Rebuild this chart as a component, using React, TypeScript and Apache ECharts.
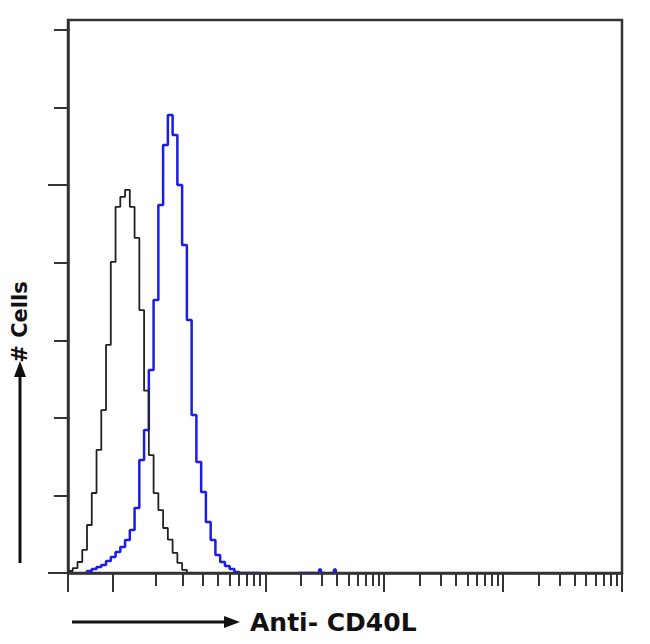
import React, { useEffect, useRef } from "react";
import * as echarts from "echarts";

// x values are log10 of fluorescence intensity, y values are cell counts
const controlBins = [-0.66, -0.64, -0.6, -0.56, -0.52, -0.48, -0.44, -0.4, -0.36, -0.32, -0.28, -0.24, -0.2, -0.16, -0.12, -0.08, -0.04, 0.0, 0.04, 0.08, 0.12, 0.16, 0.2, 0.24, 0.28, 0.32, 0.36, 0.4];
const controlCounts = [0, 0.26, 0.64, 1.42, 2.97, 6.19, 10.31, 15.86, 21.0, 29.4, 40.1, 47.2, 48.5, 49.4, 47.2, 43.2, 33.9, 23.5, 15.2, 10.3, 8.1, 5.8, 4.3, 2.6, 1.3, 0.4, 0, 0];

const cd40lBins = [-0.52, -0.48, -0.44, -0.4, -0.36, -0.32, -0.28, -0.24, -0.2, -0.16, -0.12, -0.08, -0.04, 0.0, 0.04, 0.08, 0.12, 0.16, 0.2, 0.24, 0.28, 0.32, 0.36, 0.4, 0.44, 0.48, 0.52, 0.56, 0.6, 0.64, 0.68, 0.72, 0.76, 0.8, 1.1, 1.445, 1.46, 1.475, 1.52, 1.57, 1.585, 1.6];
const cd40lCounts = [0, 0.26, 0.52, 0.77, 1.03, 1.55, 2.06, 2.71, 3.35, 4.25, 5.54, 8.38, 14.57, 18.44, 26.17, 35.19, 47.44, 55.18, 59.04, 56.47, 50.02, 42.28, 32.61, 20.37, 14.31, 10.44, 6.57, 4.25, 2.32, 1.42, 0.9, 0.52, 0.13, 0, null, 0, 0.45, 0, null, 0, 0.45, 0];

const xMin = -0.66;
const xMax = 4.0;
const yMax = 71.29;
const xMajorTicks = [-0.659, -0.285, 1, 2, 3, 4];
const xDecades = [0, 1, 2, 3];
const xMinorSteps = [2, 3, 4, 5, 6, 7, 8, 9];
const xExtraMinor = [0.08];
const yShortTicks = [10, 20, 30, 40, 60, 70];
const yLongTicks = [0, 50];

export default function App() {
  const ref = useRef<HTMLDivElement>(null);
  useEffect(() => {
    if (!ref.current) return;
    const chart = echarts.init(ref.current, null, { renderer: "svg" });
    const xMinorTicks = [...xExtraMinor];
    xDecades.forEach((d) => xMinorSteps.forEach((k) => xMinorTicks.push(d + Math.log10(k))));
    const axisColor = "#333";
    const control = controlBins.map((x, i) => [x, controlCounts[i]]);
    const cd40l = cd40lBins.map((x, i) => [x, cd40lCounts[i]]);
    chart.setOption({
      animation: false,
      backgroundColor: "#fff",
      grid: {
        left: 68,
        right: 28,
        top: 20,
        bottom: 71,
        show: true,
        borderColor: axisColor,
        borderWidth: 2.5,
      },
      xAxis: [
        {
          type: "value",
          min: xMin,
          max: xMax,
          position: "bottom",
          z: 6,
          axisLine: { show: true, onZero: false, lineStyle: { color: axisColor, width: 2.5 } },
          axisTick: { show: true, customValues: xMajorTicks, length: 19, lineStyle: { color: axisColor, width: 2 } },
          axisLabel: { show: false, customValues: xMajorTicks },
          splitLine: { show: false },
        },
        {
          type: "value",
          min: xMin,
          max: xMax,
          position: "bottom",
          z: 6,
          axisLine: { show: false, onZero: false },
          axisTick: { show: true, customValues: xMinorTicks, length: 13, lineStyle: { color: axisColor, width: 2 } },
          axisLabel: { show: false, customValues: xMinorTicks },
          splitLine: { show: false },
        },
      ],
      yAxis: [
        {
          type: "value",
          min: 0,
          max: yMax,
          position: "left",
          z: 6,
          axisLine: { show: true, onZero: false, lineStyle: { color: axisColor, width: 2.5 } },
          axisTick: { show: true, customValues: yShortTicks, length: 14, lineStyle: { color: axisColor, width: 2 } },
          axisLabel: { show: false, customValues: yShortTicks },
          splitLine: { show: false },
        },
        {
          type: "value",
          min: 0,
          max: yMax,
          position: "left",
          z: 6,
          axisLine: { show: false, onZero: false },
          axisTick: { show: true, customValues: yLongTicks, length: 20, lineStyle: { color: axisColor, width: 2 } },
          axisLabel: { show: false, customValues: yLongTicks },
          splitLine: { show: false },
        },
      ],
      series: [
        {
          type: "line",
          name: "Anti-CD40L",
          xAxisIndex: 0,
          yAxisIndex: 0,
          step: "middle",
          data: cd40l,
          showSymbol: false,
          connectNulls: false,
          lineStyle: { color: "#1c1ce8", width: 2.5 },
          z: 3,
        },
        {
          type: "line",
          name: "Control",
          xAxisIndex: 0,
          yAxisIndex: 0,
          step: "middle",
          data: control,
          showSymbol: false,
          lineStyle: { color: "#222", width: 1.8 },
          z: 4,
        },
      ],
      graphic: [
        { type: "line", shape: { x1: 20, y1: 563, x2: 20, y2: 374 }, style: { stroke: "#111", lineWidth: 3 } },
        { type: "polygon", shape: { points: [[20, 361], [14, 377], [26, 377]] }, style: { fill: "#111" } },
        {
          type: "text",
          x: 20,
          y: 322,
          rotation: Math.PI / 2,
          style: { text: "# Cells", font: 'bold 21px "DejaVu Sans"', fill: "#111", align: "center", verticalAlign: "middle" },
        },
        { type: "line", shape: { x1: 72, y1: 622, x2: 226, y2: 622 }, style: { stroke: "#111", lineWidth: 3 } },
        { type: "polygon", shape: { points: [[240, 622], [224, 616], [224, 628]] }, style: { fill: "#111" } },
        {
          type: "text",
          x: 250,
          y: 622,
          style: { text: "Anti- CD40L", font: 'bold 25px "DejaVu Sans"', fill: "#111", align: "left", verticalAlign: "middle" },
        },
      ],
    });
    return () => chart.dispose();
  }, []);
  return <div ref={ref} style={{ position: "fixed", left: 0, top: 0, width: 650, height: 644 }} />;
}
